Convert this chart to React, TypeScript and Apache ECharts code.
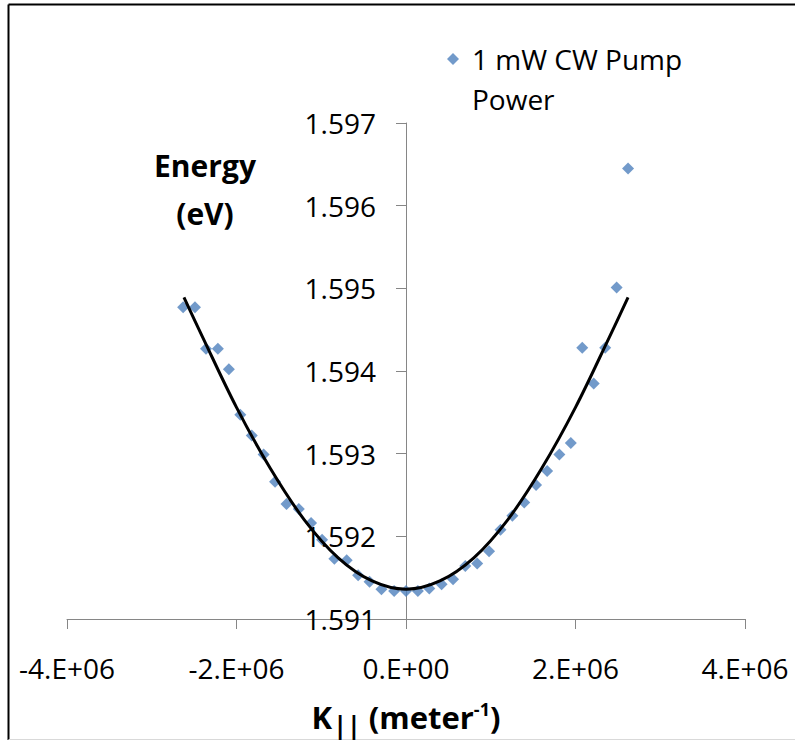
import React, { useEffect, useRef } from "react";
import * as echarts from "echarts";

// Measured points (K in meter^-1, energy in eV)
const kValues = [
  -2.63e6, -2.49e6, -2.36e6, -2.22e6, -2.09e6, -1.955e6, -1.82e6, -1.68e6, -1.545e6, -1.41e6,
  -1.265e6, -1.12e6, -0.99e6, -0.845e6, -0.7e6, -0.565e6, -0.43e6, -0.29e6, -0.14e6, 0,
  0.14e6, 0.275e6, 0.42e6, 0.555e6, 0.7e6, 0.84e6, 0.98e6, 1.115e6, 1.255e6, 1.395e6,
  1.535e6, 1.665e6, 1.81e6, 1.945e6, 2.08e6, 2.215e6, 2.35e6, 2.485e6, 2.62e6,
];
const energyValues = [
  1.59477, 1.59477, 1.59427, 1.59427, 1.59402, 1.59347, 1.59322, 1.59299, 1.59266, 1.59239,
  1.59233, 1.59216, 1.59196, 1.59173, 1.59171, 1.59153, 1.59145, 1.59136, 1.59134, 1.59134,
  1.59134, 1.59137, 1.59142, 1.59148, 1.59164, 1.59167, 1.59182, 1.59208, 1.59225, 1.59241,
  1.59262, 1.59279, 1.59299, 1.59313, 1.59428, 1.59385, 1.59428, 1.59501, 1.59645,
];

// Fitted curve
const fitK = [-2.62e6, -2.4e6, -2.0e6, -1.6e6, -1.2e6, -0.8e6, -0.4e6, 0, 0.4e6, 0.8e6, 1.2e6, 1.6e6, 2.0e6, 2.4e6, 2.62e6];
const fitEnergy = [1.59489, 1.59441, 1.59356, 1.59282, 1.5922, 1.59174, 1.59146, 1.59136, 1.59146, 1.59174, 1.5922, 1.59282, 1.59356, 1.59441, 1.59489];

const seriesName = "1 mW CW Pump Power";
const legendLines = ["", "1 mW CW Pump", "Power"];
const yTitle = ["Energy", "(eV)"];

const FONT = '"Open Sans", "Noto Sans", sans-serif';
const BLUE = "#4F81BD";
const AXIS = "#868686";

const GRID_LEFT = 67;
const GRID_RIGHT = 50;
const CHART_W = 795;

export default function App() {
  const ref = useRef<HTMLDivElement>(null);
  useEffect(() => {
    if (!ref.current) return;
    const chart = echarts.init(ref.current, null, { renderer: "svg" });
    const scatter = kValues.map((k, i) => [k, energyValues[i]]);
    const fit = fitK.map((k, i) => [k, fitEnergy[i]]);
    const halfWidth = (CHART_W - GRID_LEFT - GRID_RIGHT) / 2;
    chart.setOption({
      animation: false,
      backgroundColor: "#ffffff",
      grid: {
        left: GRID_LEFT,
        right: GRID_RIGHT,
        top: 123,
        bottom: 121,
        containLabel: false,
        outerBoundsMode: "none",
      },
      legend: {
        data: [{ name: seriesName, icon: "diamond" }],
        left: 447,
        top: -1,
        padding: 0,
        itemWidth: 12,
        itemHeight: 12,
        formatter: () => legendLines.join("\n"),
        textStyle: {
          fontFamily: FONT,
          fontSize: 28,
          lineHeight: 40,
          color: "#000",
          padding: [0, 0, 0, 8],
        },
      },
      xAxis: {
        type: "value",
        min: -4e6,
        max: 4e6,
        interval: 2e6,
        splitLine: { show: false },
        axisLine: { onZero: false, lineStyle: { color: AXIS, width: 1 } },
        axisTick: { show: true, length: 10, lineStyle: { color: AXIS } },
        axisLabel: {
          margin: 35,
          fontFamily: FONT,
          fontSize: 28,
          color: "#000",
          formatter: (v: number) => (v === 0 ? "0.E+00" : `${Math.round(v / 1e6)}.E+06`),
        },
        name: "{b|K}{sub|||}{b| (meter}{sup|-1}{b|)}",
        nameLocation: "middle",
        nameGap: 78,
        nameTextStyle: {
          rich: {
            b: { fontFamily: FONT, fontWeight: "bold", fontSize: 31, color: "#000" },
            sub: { fontFamily: FONT, fontWeight: "bold", fontSize: 25, color: "#000", padding: [14, 0, 0, 1] },
            sup: { fontFamily: FONT, fontWeight: "bold", fontSize: 18, color: "#000", padding: [0, 0, 16, 0] },
          },
        },
      },
      yAxis: {
        type: "value",
        min: 1.591,
        max: 1.597,
        interval: 0.001,
        offset: -halfWidth,
        splitLine: { show: false },
        axisLine: { onZero: false, lineStyle: { color: AXIS, width: 1 } },
        axisTick: { show: true, length: 10, lineStyle: { color: AXIS } },
        axisLabel: {
          margin: 30,
          fontFamily: FONT,
          fontSize: 28,
          color: "#000",
          formatter: (v: number) => v.toFixed(3),
        },
      },
      graphic: [
        {
          type: "text",
          x: 205,
          y: 141,
          style: {
            text: yTitle.join("\n"),
            font: `bold 30px ${FONT}`,
            fill: "#000",
            align: "center",
            verticalAlign: "top",
            lineHeight: 48,
          },
        },
        { type: "line", shape: { x1: 8.5, y1: 4.5, x2: 795, y2: 4.5 }, style: { stroke: "#000", lineWidth: 2 } },
        { type: "line", shape: { x1: 8.5, y1: 4.5, x2: 8.5, y2: 740 }, style: { stroke: "#000", lineWidth: 2 } },
        { type: "line", shape: { x1: 8.5, y1: 739.5, x2: 795, y2: 739.5 }, style: { stroke: "#d9d9d9", lineWidth: 1 } },
      ],
      series: [
        {
          name: seriesName,
          type: "scatter",
          symbol: "diamond",
          symbolSize: 12,
          itemStyle: { color: BLUE },
          data: scatter,
          z: 2,
        },
        {
          name: "fit",
          type: "line",
          data: fit,
          smooth: 0.35,
          symbol: "none",
          lineStyle: { color: "#000", width: 3 },
          z: 3,
        },
      ],
    });
    return () => chart.dispose();
  }, []);
  return (
    <div
      ref={ref}
      style={{ position: "fixed", left: 0, top: 0, width: CHART_W, height: 740 }}
    />
  );
}
